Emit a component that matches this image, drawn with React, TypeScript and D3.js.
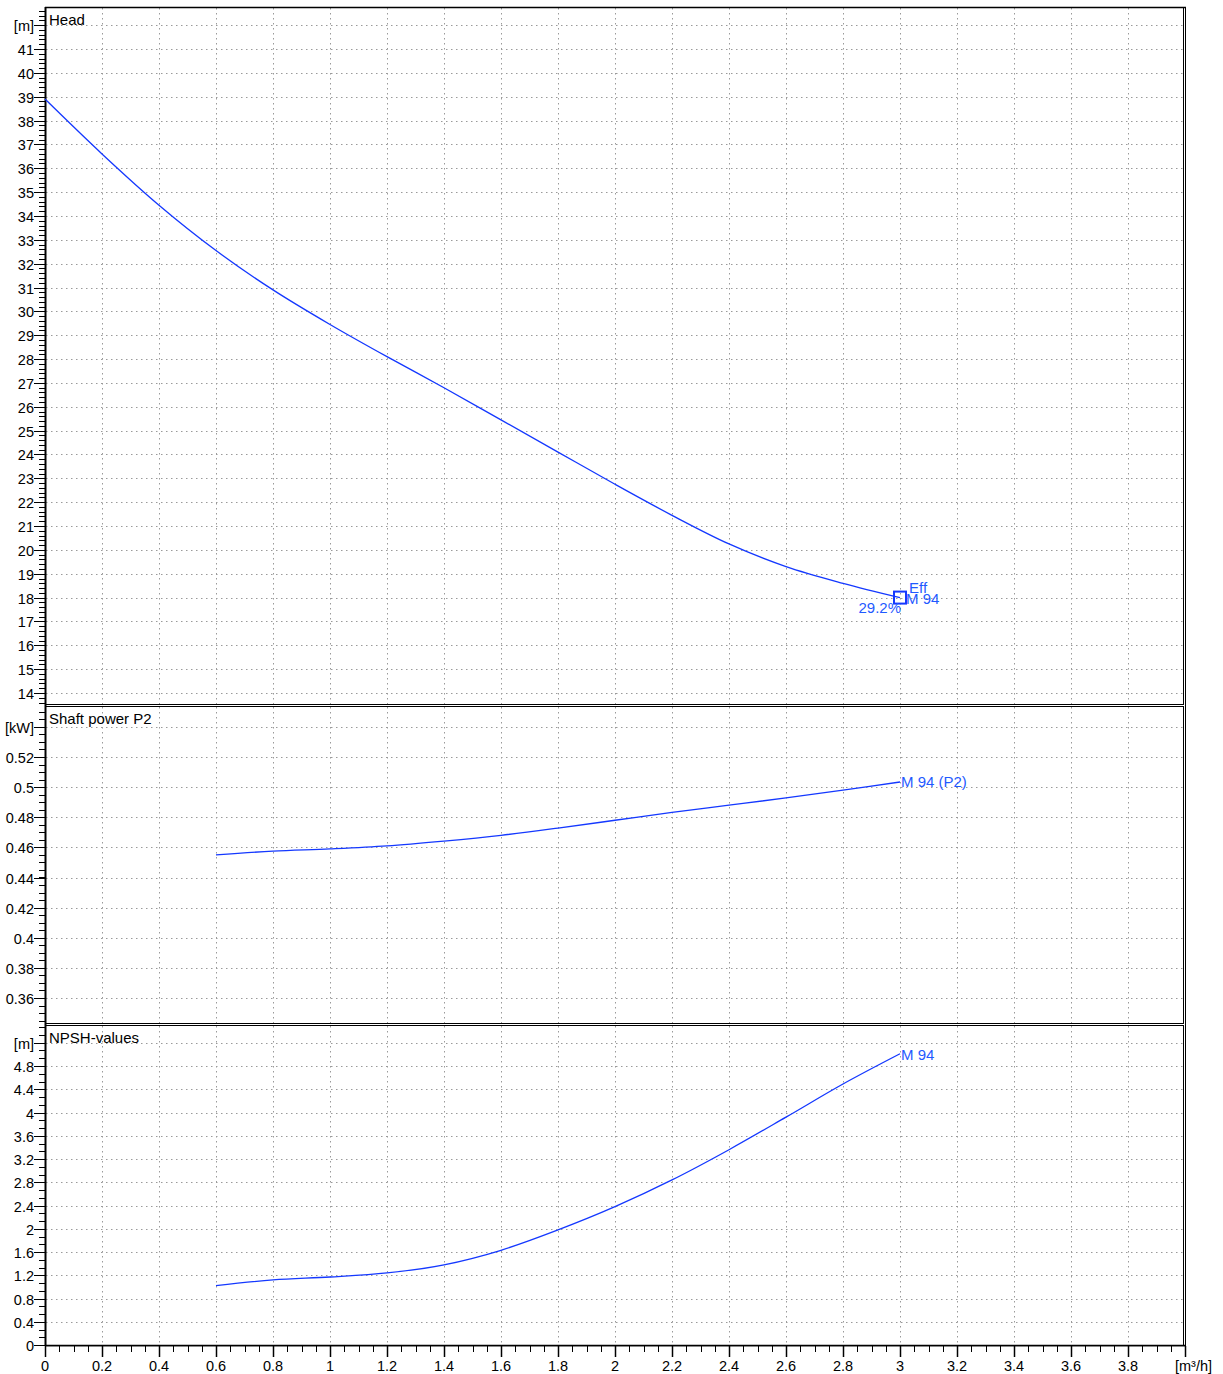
import React from "react";
import * as d3 from "d3";

const flowQ = [0, 0.2, 0.4, 0.6, 0.8, 1.0, 1.2, 1.4, 1.6, 1.8, 2.0, 2.2, 2.4, 2.6, 2.8, 3.0];
const headH = [38.9, 36.6, 34.45, 32.55, 30.9, 29.45, 28.1, 26.8, 25.45, 24.1, 22.75, 21.45, 20.25, 19.3, 18.6, 18.0];

const powerQ = [0.6, 0.8, 1.0, 1.2, 1.4, 1.6, 1.8, 2.0, 2.2, 2.4, 2.6, 2.8, 3.0];
const powerP2 = [0.455, 0.4575, 0.459, 0.461, 0.4642, 0.468, 0.4728, 0.478, 0.4833, 0.488, 0.4928, 0.498, 0.5034];

const npshQ = [0.6, 0.8, 1.0, 1.2, 1.4, 1.6, 1.8, 2.0, 2.2, 2.4, 2.6, 2.8, 3.0];
const npshV = [1.02, 1.12, 1.17, 1.24, 1.38, 1.63, 1.98, 2.38, 2.84, 3.36, 3.92, 4.49, 5.01];

const headTicks = d3.range(14, 42, 1);
const powerTicks = [0.36, 0.38, 0.4, 0.42, 0.44, 0.46, 0.48, 0.5, 0.52];
const npshTicks = [0, 0.4, 0.8, 1.2, 1.6, 2, 2.4, 2.8, 3.2, 3.6, 4, 4.4, 4.8];
const xTicks = d3.range(0, 20).map((i) => +(i * 0.2).toFixed(1));

const dutyQ = 3.0;
const dutyH = 18.0;
const effLabel = "29.2%";

const LINE = "#1438ff";
const TXT = "#1f5aff";
const GRID = "#9a9a9a";
const FONT = "'Liberation Sans', Arial, sans-serif";

const L = 45;
const R = 1183;

export default function App() {
  const x = d3.scaleLinear().domain([0, 4]).range([L, 1185]);

  const panels = [
    {
      top: 7,
      bottom: 704,
      y: d3.scaleLinear().domain([14, 41]).range([693, 49]),
      ticks: headTicks,
      unitVal: 42,
      unit: "[m]",
      title: "Head",
      minorStep: 0.2,
      minorFrom: 13.6,
      minorTo: 42.8,
      fmt: (v: number) => String(v),
    },
    {
      top: 706,
      bottom: 1023,
      y: d3.scaleLinear().domain([0.36, 0.52]).range([998, 757]),
      ticks: powerTicks,
      unitVal: 0.54,
      unit: "[kW]",
      title: "Shaft power P2",
      minorStep: 0.005,
      minorFrom: 0.345,
      minorTo: 0.555,
      fmt: (v: number) => String(+v.toFixed(2)),
    },
    {
      top: 1025,
      bottom: 1345,
      y: d3.scaleLinear().domain([0, 4.8]).range([1345, 1066]),
      ticks: npshTicks,
      unitVal: 5.2,
      unit: "[m]",
      title: "NPSH-values",
      minorStep: 0.4 / 3,
      minorFrom: 0,
      minorTo: 5.6,
      fmt: (v: number) => String(+v.toFixed(1)),
    },
  ];

  const [pH, pP, pN] = panels;
  const curve = d3.curveCatmullRom.alpha(0.5);

  const headLine = d3
    .line<number>()
    .x((_, i) => x(flowQ[i]))
    .y((d) => pH.y(d))
    .curve(curve)(headH);
  const powerLine = d3
    .line<number>()
    .x((_, i) => x(powerQ[i]))
    .y((d) => pP.y(d))
    .curve(curve)(powerP2);
  const npshLine = d3
    .line<number>()
    .x((_, i) => x(npshQ[i]))
    .y((d) => pN.y(d))
    .curve(curve)(npshV);

  const minorX = d3.range(0, 81).map((i) => i * 0.05);

  const dutyX = x(dutyQ);
  const dutyY = pH.y(dutyH);
  const pEndY = pP.y(powerP2[powerP2.length - 1]);
  const nEndY = pN.y(npshV[npshV.length - 1]);

  return (
    <svg
      width={1223}
      height={1374}
      style={{ position: "absolute", left: 0, top: 0, background: "#fff" }}
      fontFamily={FONT}
    >
      <rect x={0} y={0} width={1223} height={1374} fill="#fff" />
      {panels.map((p, pi) => {
        const minors: number[] = [];
        for (let v = p.minorFrom; v <= p.minorTo + 1e-9; v += p.minorStep) {
          const yy = p.y(v);
          if (yy >= p.top && yy <= p.bottom) minors.push(yy);
        }
        const gridVals = [...p.ticks, p.unitVal];
        return (
          <g key={pi}>
            {xTicks
              .filter((v) => v > 0)
              .map((v) => (
                <line
                  key={"vg" + v}
                  x1={Math.round(x(v)) + 0.5}
                  x2={Math.round(x(v)) + 0.5}
                  y1={p.top + 1}
                  y2={p.bottom}
                  stroke={GRID}
                  strokeWidth={1}
                  strokeDasharray="1.5,3.5"
                />
              ))}
            {gridVals
              .filter((v) => p.y(v) > p.top + 2 && p.y(v) < p.bottom - 2)
              .map((v) => (
                <line
                  key={"hg" + v}
                  x1={L + 1}
                  x2={R}
                  y1={Math.round(p.y(v)) + 0.5}
                  y2={Math.round(p.y(v)) + 0.5}
                  stroke={GRID}
                  strokeWidth={1}
                  strokeDasharray="1.5,3.5"
                />
              ))}
            {minors.map((yy, i) => (
              <line
                key={"mt" + i}
                x1={39}
                x2={L}
                y1={Math.round(yy) + 0.5}
                y2={Math.round(yy) + 0.5}
                stroke="#000"
                strokeWidth={1}
              />
            ))}
            {gridVals.map((v) => {
              const yy = Math.round(p.y(v)) + 0.5;
              return (
                <g key={"t" + v}>
                  <line x1={34} x2={L} y1={yy} y2={yy} stroke="#000" strokeWidth={1} />
                  <text
                    x={34}
                    y={yy}
                    dy="0.36em"
                    textAnchor="end"
                    fontSize={14.5}
                    fill="#000"
                  >
                    {v === p.unitVal ? p.unit : p.fmt(v)}
                  </text>
                </g>
              );
            })}
            <rect
              x={L + 0.5}
              y={p.top + 0.5}
              width={R - L}
              height={p.bottom - p.top}
              fill="none"
              stroke="#000"
              strokeWidth={1}
            />
            <text x={49} y={p.top + 18} fontSize={15} fill="#000">
              {p.title}
            </text>
          </g>
        );
      })}

      <line x1={L + 0.5} x2={L + 0.5} y1={7} y2={1346} stroke="#000" strokeWidth={2} />
      <line x1={1185.5} x2={1185.5} y1={7} y2={1346} stroke="#000" strokeWidth={1} />
      <line x1={L} x2={1186} y1={7.5} y2={7.5} stroke="#000" strokeWidth={1.5} />
      <line x1={L} x2={1186} y1={1345.5} y2={1345.5} stroke="#000" strokeWidth={1.5} />
      <line x1={L} x2={1186} y1={1346.5} y2={1346.5} stroke="#888" strokeWidth={1} />

      {minorX.map((v, i) => {
        const xx = Math.round(x(v)) + 0.5;
        const major = i % 4 === 0;
        return (
          <line
            key={"xt" + i}
            x1={xx}
            x2={xx}
            y1={1346}
            y2={major ? 1357 : 1352}
            stroke="#000"
            strokeWidth={major ? 1.5 : 1}
          />
        );
      })}
      {xTicks.map((v) => (
        <text
          key={"xl" + v}
          x={x(v)}
          y={1371}
          textAnchor="middle"
          fontSize={14.5}
          fill="#000"
        >
          {String(v)}
        </text>
      ))}
      <text x={1175} y={1371} fontSize={14.5} fill="#000">
        [m³/h]
      </text>

      <path d={headLine || ""} fill="none" stroke={LINE} strokeWidth={1.3} />
      <path d={powerLine || ""} fill="none" stroke={LINE} strokeWidth={1.3} />
      <path d={npshLine || ""} fill="none" stroke={LINE} strokeWidth={1.3} />

      <rect
        x={dutyX - 6}
        y={dutyY - 6}
        width={12}
        height={12}
        fill="none"
        stroke={LINE}
        strokeWidth={2}
      />
      <text x={dutyX + 9} y={dutyY - 5} fontSize={15} fill={TXT}>
        Eff
      </text>
      <text x={dutyX + 6} y={dutyY + 6} fontSize={15} fill={TXT}>
        M 94
      </text>
      <text x={dutyX + 1} y={dutyY + 15} fontSize={15} fill={TXT} textAnchor="end">
        {effLabel}
      </text>
      <text x={dutyX + 1} y={pEndY + 5} fontSize={15} fill={TXT}>
        M 94 (P2)
      </text>
      <text x={dutyX + 1} y={nEndY + 6} fontSize={15} fill={TXT}>
        M 94
      </text>
    </svg>
  );
}
